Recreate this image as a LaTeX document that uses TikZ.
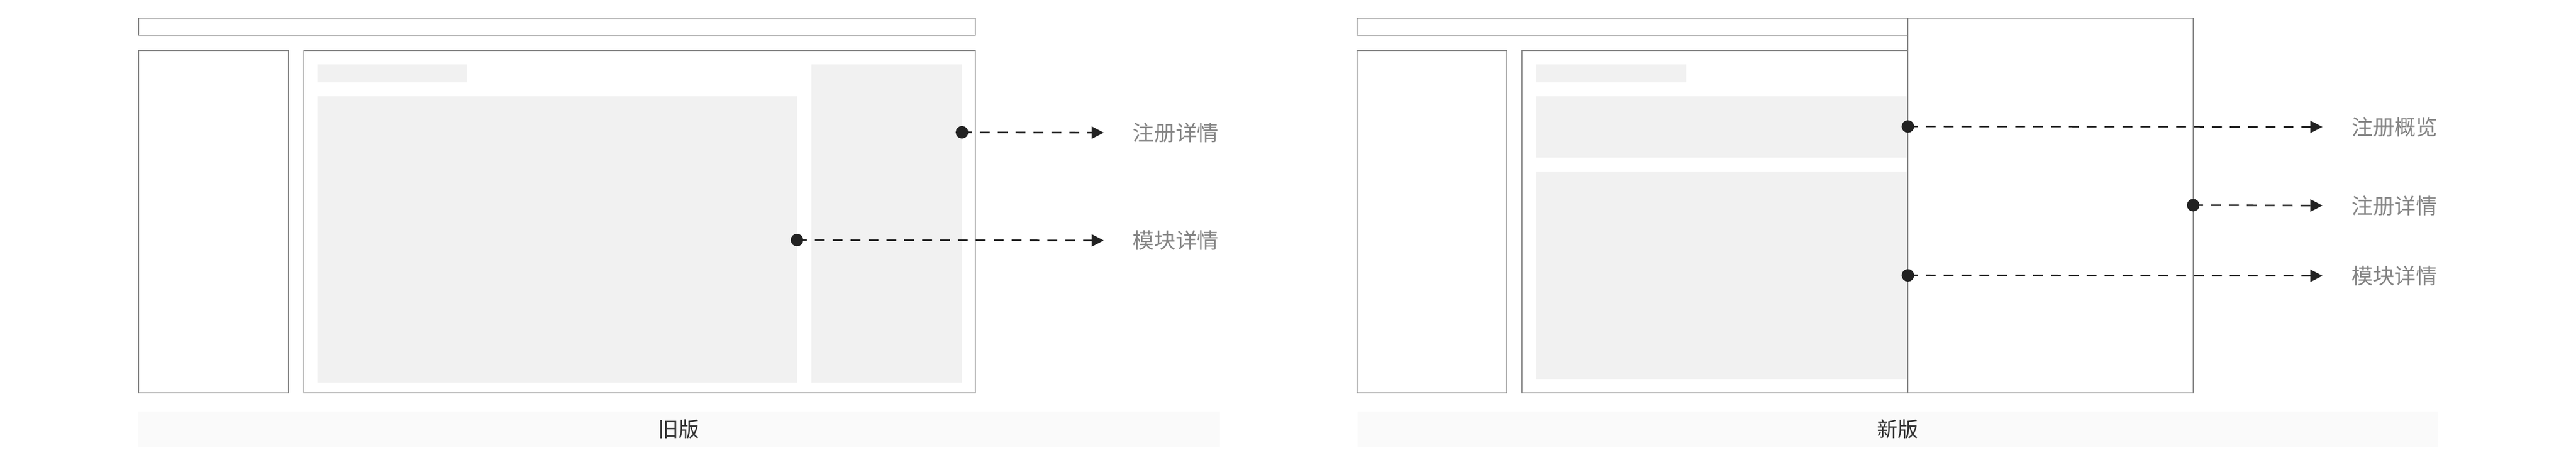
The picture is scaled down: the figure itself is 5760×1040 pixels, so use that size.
\documentclass[tikz,border=0pt]{standalone}
\usepackage{fontspec}
\setmainfont{Noto Sans CJK SC}
\usetikzlibrary{arrows.meta}
\definecolor{framegray}{HTML}{878787}
\definecolor{blockgray}{HTML}{F1F1F1}
\definecolor{barfill}{HTML}{FAFAFA}
\definecolor{inkc}{HTML}{222222}
\definecolor{lblgray}{HTML}{848484}
\definecolor{captc}{HTML}{333333}
\tikzset{
  frame/.style={draw=framegray, line width=2pt},
  block/.style={fill=blockgray},
  capbar/.style={fill=barfill},
  dotnode/.style={circle, fill=inkc, inner sep=0pt, minimum size=28pt},
  conn/.style={draw=inkc, line width=3.5pt, dash pattern=on 22pt off 18pt,
    -{Triangle[length=27pt,width=27pt]}, shorten >=65pt},
  lbl/.style={text=lblgray, font=\fontsize{48}{52}\selectfont, inner sep=0pt, anchor=west},
  capt/.style={text=captc, font=\fontsize{46}{50}\selectfont, inner sep=0pt}
}
\begin{document}
\begin{tikzpicture}[x=1pt,y=-1pt]
\useasboundingbox[fill=white] (0,0) rectangle (5760,1040);
% ---------- old version ----------
\draw[frame] (310,41) rectangle (2181,79);
\draw[frame] (310,113) rectangle (645,879);
\draw[frame] (679,113) rectangle (2181,879);
\fill[block] (710,144) rectangle (1045,184);
\fill[block] (710,216) rectangle (1782,856);
\fill[block] (1814,144) rectangle (2151,856);
\node[dotnode] (oa) at (2151,296) {};
\node[dotnode] (ob) at (1782,537) {};
\node[lbl] (ola) at (2533,297) {注册详情};
\node[lbl] (olb) at (2533,538) {模块详情};
\draw[conn] (oa.center) -- (ola.west);
\draw[conn] (ob.center) -- (olb.west);
\fill[capbar] (309,920) rectangle (2728,1000);
\node[capt] (oc) at (1518,960) {旧版};
% ---------- new version ----------
\draw[frame] (3034,41) rectangle (4266,79);
\draw[frame] (3034,113) rectangle (3369,879);
\draw[frame] (3403,113) rectangle (4600,879);
\fill[block] (3434,144) rectangle (3770,184);
\fill[block] (3434,216) rectangle (4400,352);
\fill[block] (3434,384) rectangle (4400,848);
\filldraw[frame, fill=white] (4266,41) rectangle (4904,879);
\node[dotnode] (na) at (4266,283) {};
\node[dotnode] (nb) at (4904,459) {};
\node[dotnode] (nc) at (4266,616) {};
\node[lbl] (nla) at (5258,284) {注册概览};
\node[lbl] (nlb) at (5258,460) {注册详情};
\node[lbl] (nlc) at (5258,617) {模块详情};
\draw[conn] (na.center) -- (nla.west);
\draw[conn] (nb.center) -- (nlb.west);
\draw[conn] (nc.center) -- (nlc.west);
\fill[capbar] (3035,920) rectangle (5451,1000);
\node[capt] (ncap) at (4243,960) {新版};
\end{tikzpicture}
\end{document}
